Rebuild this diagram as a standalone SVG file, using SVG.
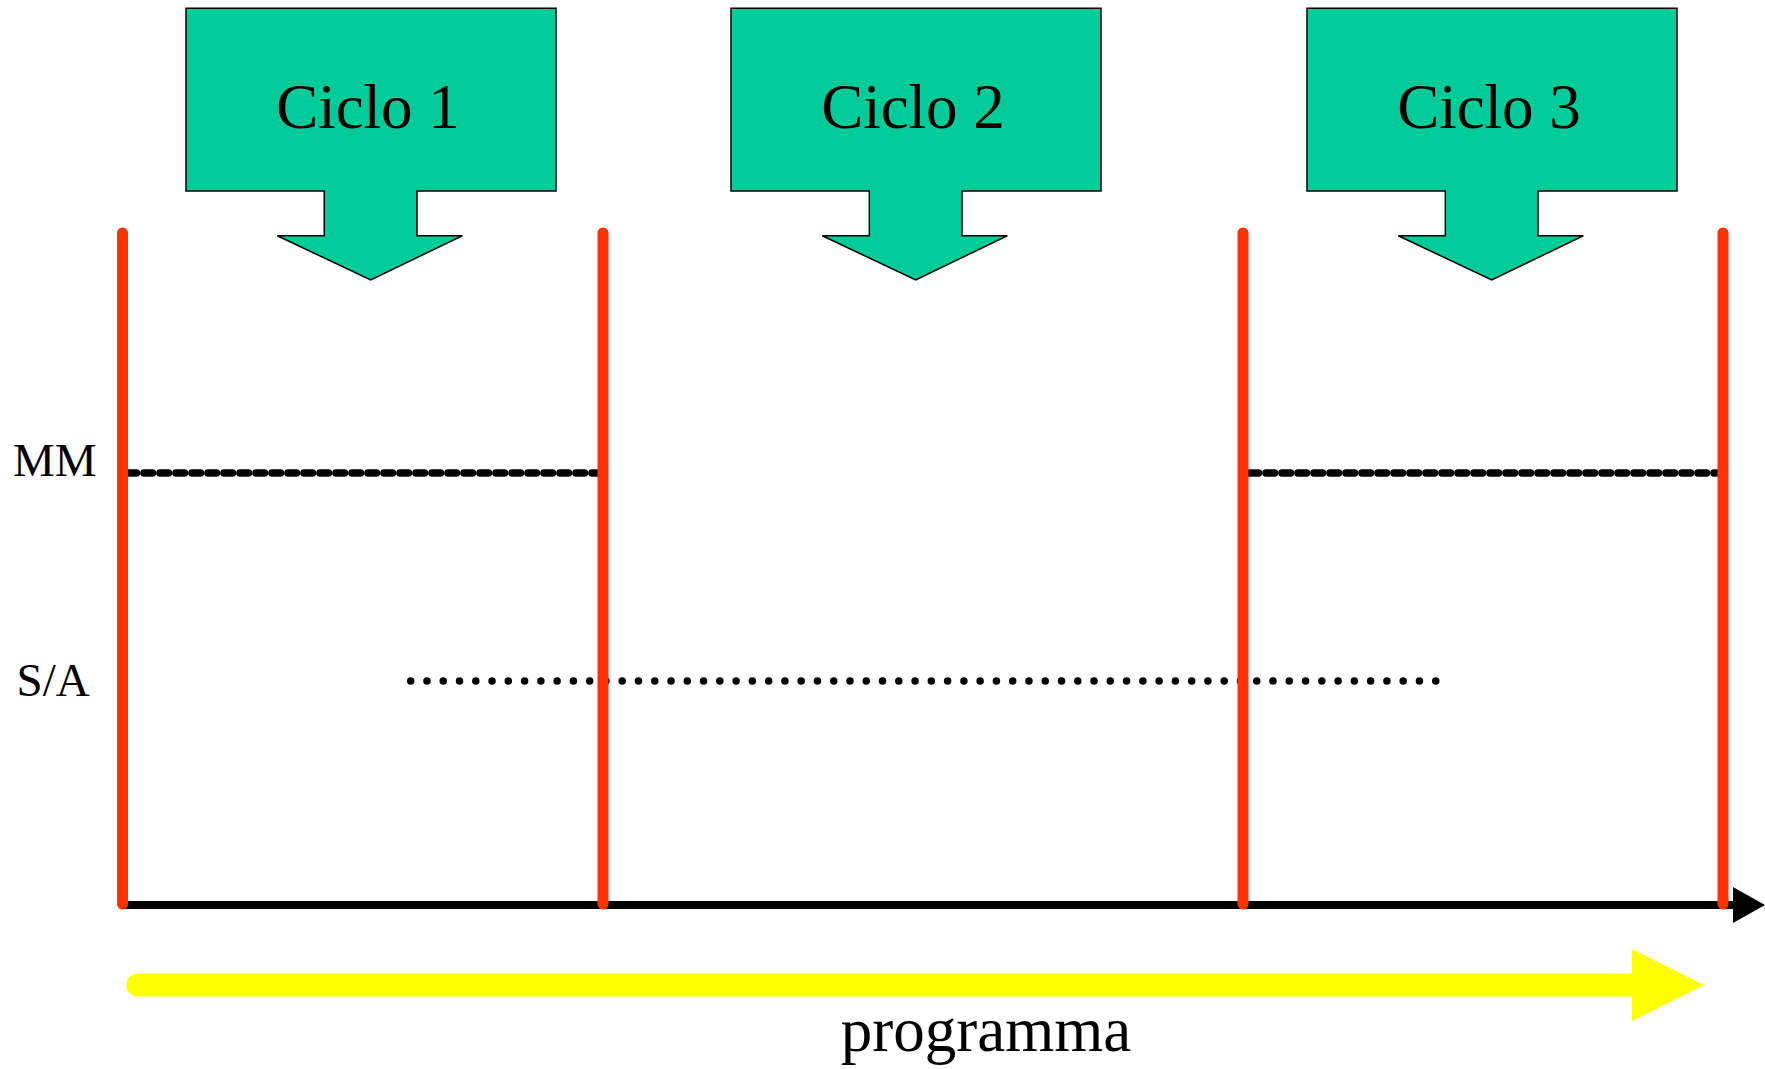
<svg xmlns="http://www.w3.org/2000/svg" width="1765" height="1069" viewBox="0 0 1765 1069">
  <style>
    .callout { fill: #00CC99; stroke: #000000; stroke-width: 1.5; }
    .ctext { font-family: "Liberation Serif", "Times New Roman", serif; font-size: 63px; fill: #000000; text-anchor: middle; }
    .label { font-family: "Liberation Serif", "Times New Roman", serif; font-size: 47px; fill: #000000; }
    .red { stroke: #FF3300; stroke-width: 11; stroke-linecap: round; fill: none; }
    .mm { stroke: #000000; stroke-width: 7.5; stroke-dasharray: 8.5 7.5; stroke-linecap: round; fill: none; }
    .sa { stroke: #000000; stroke-width: 7.5; stroke-dasharray: 0 16.27; stroke-linecap: round; fill: none; }
  </style>
  <defs>
    <path id="calloutShape" d="M0,0 H370 V182.7 H231 V227.4 H276.3 L184.7,271.7 L91.3,227.4 H138.3 V182.7 H0 Z"/>
  </defs>
  <rect width="1765" height="1069" fill="#ffffff"/>

  <g id="ciclo1">
    <use href="#calloutShape" class="callout" transform="translate(186,8.3)"/>
    <text class="ctext" x="368" y="128">Ciclo 1</text>
  </g>
  <g id="ciclo2">
    <use href="#calloutShape" class="callout" transform="translate(731,8.3)"/>
    <text class="ctext" x="913" y="128">Ciclo 2</text>
  </g>
  <g id="ciclo3">
    <use href="#calloutShape" class="callout" transform="translate(1307,8.3)"/>
    <text class="ctext" x="1489" y="128">Ciclo 3</text>
  </g>

  <g id="labels">
    <text class="label" x="13" y="476">MM</text>
    <text class="label" x="16.5" y="696">S/A</text>
    <text x="986" y="1051" font-family="'Liberation Serif', 'Times New Roman', serif" font-size="63" text-anchor="middle" fill="#000000">programma</text>
  </g>

  <g id="connectors">
    <line x1="128" y1="473" x2="598" y2="473" class="mm"/>
    <line x1="1250" y1="473" x2="1716" y2="473" class="mm"/>
    <line x1="410.7" y1="681" x2="1436" y2="681" class="sa"/>
    <line x1="122" y1="905" x2="1735" y2="905" stroke="#000000" stroke-width="8"/>
    <polygon points="1733,887 1765,905 1733,923" fill="#000000"/>
    <line x1="122.5" y1="233" x2="122.5" y2="904" class="red"/>
    <line x1="603" y1="233" x2="603" y2="904" class="red"/>
    <line x1="1243" y1="233" x2="1243" y2="904" class="red"/>
    <line x1="1723" y1="233" x2="1723" y2="904" class="red"/>
    <line x1="138" y1="985" x2="1633" y2="985" stroke="#FFFF00" stroke-width="23" stroke-linecap="round"/>
    <polygon points="1632,949 1704,985 1632,1021" fill="#FFFF00"/>
  </g>
</svg>
